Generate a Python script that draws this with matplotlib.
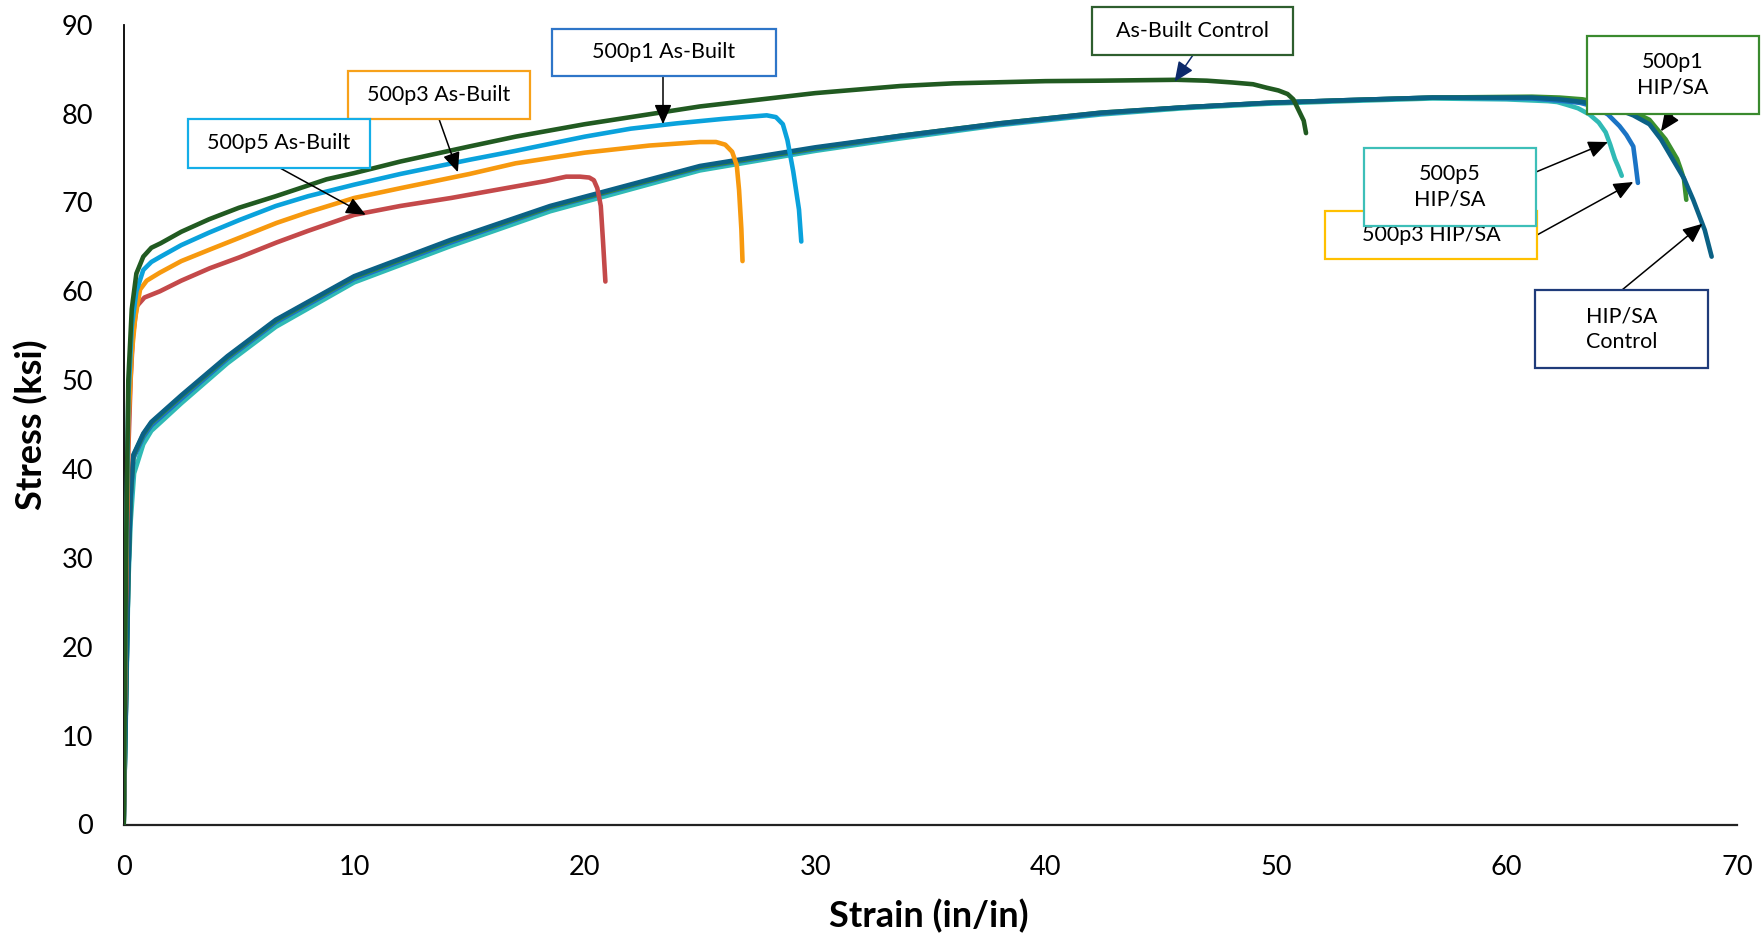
import matplotlib
matplotlib.use("Agg")
import matplotlib.pyplot as plt
from matplotlib.patches import Rectangle

plt.rcParams['font.family'] = ['Lato', 'DejaVu Sans']

# ---------------- data (strain %, stress ksi) ----------------
hip_p5_x = [0, 0.1, 0.2, 0.3, 0.45, 0.85, 1.2, 2.5, 4.5, 6.6, 10, 14.2, 18.5, 25, 30, 33.7, 38, 42.4, 46,
            49.6, 53, 56.8, 60, 61.8, 62.2, 62.6, 63.1, 63.6, 64.0, 64.3, 64.5, 64.7, 64.85, 65.0]
hip_p5_y = [0, 13, 27, 34, 39.5, 42.8, 44.3, 47.4, 51.9, 56.0, 61.0, 65.1, 69.0, 73.6, 75.8, 77.2, 78.7, 79.9, 80.6,
            81.1, 81.4, 81.7, 81.6, 81.4, 81.3, 81.0, 80.6, 79.9, 79.0, 77.9, 76.5, 74.9, 74.0, 73.0]

hip_p3_x = [0, 0.1, 0.2, 0.3, 0.42, 0.85, 1.2, 2.5, 4.5, 6.6, 10, 14.2, 18.5, 25, 30, 33.7, 38, 42.4, 46,
            49.6, 53, 56.8, 61.1, 62.5, 63.2, 63.8, 64.4, 64.9, 65.2, 65.5, 65.6, 65.7]
hip_p3_y = [0, 14, 28, 36, 41.2, 43.6, 44.9, 47.9, 52.4, 56.5, 61.4, 65.5, 69.4, 73.9, 76.0, 77.4, 78.8, 80.0, 80.7,
            81.2, 81.5, 81.8, 81.7, 81.4, 81.2, 80.8, 79.9, 78.6, 77.6, 76.3, 74.3, 72.2]

hip_p1_x = [0, 0.1, 0.2, 0.3, 0.42, 0.85, 1.2, 2.5, 4.5, 6.6, 10, 14.2, 18.5, 25, 30, 33.7, 38, 42.4, 46,
            49.6, 53, 56.8, 61.1, 62.3, 63.3, 64.8, 65.5, 66.2, 66.9, 67.15, 67.4, 67.55, 67.7, 67.8]
hip_p1_y = [0, 14, 28, 37, 41.5, 43.9, 45.2, 48.2, 52.6, 56.7, 61.6, 65.7, 69.5, 74.0, 76.1, 77.5, 78.9, 80.1, 80.7,
            81.2, 81.5, 81.8, 81.9, 81.8, 81.6, 80.8, 80.2, 79.3, 77.1, 76.0, 74.9, 73.8, 72.6, 70.3]

hip_ctrl_x = [0, 0.1, 0.2, 0.3, 0.42, 0.85, 1.2, 2.5, 4.5, 6.6, 10, 14.2, 18.5, 25, 30, 33.7, 38, 42.4, 46,
              49.6, 53, 56.8, 61.1, 62.3, 63.3, 64.8, 65.5, 66.2, 66.7, 67.2, 67.7, 68.1, 68.6, 68.9]
hip_ctrl_y = [0, 14, 28, 37, 41.6, 44.0, 45.3, 48.3, 52.7, 56.8, 61.7, 65.8, 69.6, 74.1, 76.2, 77.5, 78.9, 80.1, 80.7,
              81.2, 81.5, 81.8, 81.8, 81.6, 81.3, 80.5, 79.8, 78.8, 77.1, 74.9, 72.7, 70.3, 66.9, 63.9]

ab_p5_x = [0, 0.1, 0.2, 0.3, 0.4, 0.56, 0.9, 1.57, 2.5, 3.74, 5, 6.64, 8, 10, 12, 14.2, 17, 18.3, 19.2, 19.8,
           20.2, 20.4, 20.55, 20.7, 20.8, 20.9]
ab_p5_y = [0, 25, 42, 50, 55, 58.3, 59.3, 60.0, 61.2, 62.6, 63.8, 65.5, 66.8, 68.6, 69.6, 70.5, 71.8, 72.4, 72.9, 72.9,
           72.8, 72.5, 71.6, 69.6, 65.5, 61.1]

ab_p3_x = [0, 0.1, 0.2, 0.35, 0.5, 0.71, 1.0, 1.57, 2.5, 3.74, 5, 6.64, 8, 10, 12, 15, 17, 18.5, 20, 22.8, 25,
           25.7, 26.1, 26.4, 26.6, 26.7, 26.8, 26.85]
ab_p3_y = [0, 28, 45, 53, 57, 60.2, 61.2, 62.1, 63.4, 64.7, 66.0, 67.7, 68.9, 70.5, 71.6, 73.2, 74.4, 75.0, 75.6, 76.4,
           76.8, 76.8, 76.5, 75.7, 74.2, 71.4, 67.0, 63.4]

ab_p1_x = [0, 0.1, 0.2, 0.35, 0.55, 0.85, 1.2, 1.6, 2.5, 3.7, 5, 6.6, 8, 10, 12, 15, 17, 20, 22, 24, 26, 27.9,
           28.3, 28.6, 28.8, 29.05, 29.3, 29.4]
ab_p1_y = [0, 30, 48, 56, 60, 62.4, 63.3, 63.9, 65.2, 66.6, 68.0, 69.6, 70.7, 72.0, 73.2, 74.8, 75.8, 77.4, 78.3, 78.9,
           79.4, 79.8, 79.6, 78.8, 77.0, 73.5, 69.2, 65.6]

ab_ctrl_x = [0, 0.1, 0.2, 0.35, 0.55, 0.85, 1.2, 1.6, 2.5, 3.7, 5, 6.6, 8.8, 10, 12, 15, 17, 20, 25, 30, 33.7,
             36, 40, 42.4, 45.7, 47, 48.1, 49, 49.6, 50.1, 50.5, 50.75, 50.9, 51.05, 51.2, 51.3]
ab_ctrl_y = [0, 30, 50, 58, 62, 63.9, 64.9, 65.4, 66.7, 68.1, 69.4, 70.7, 72.6, 73.3, 74.6, 76.3, 77.4, 78.8, 80.8,
             82.3, 83.1, 83.4, 83.65, 83.7, 83.8, 83.7, 83.5, 83.3, 82.9, 82.6, 82.2, 81.6, 80.8, 80.0, 79.2, 77.8]

x_ticks = [0, 10, 20, 30, 40, 50, 60, 70]
y_ticks = [0, 10, 20, 30, 40, 50, 60, 70, 80, 90]

series = [
    (hip_p5_x, hip_p5_y, '#30BAB5'),
    (hip_p3_x, hip_p3_y, '#1B74C5'),
    (hip_p1_x, hip_p1_y, '#3A8F2E'),
    (hip_ctrl_x, hip_ctrl_y, '#0B6185'),
    (ab_p5_x, ab_p5_y, '#C4494A'),
    (ab_p3_x, ab_p3_y, '#F7990E'),
    (ab_p1_x, ab_p1_y, '#0AA2DC'),
    (ab_ctrl_x, ab_ctrl_y, '#215A21'),
]

# callouts: text, box (px: left, top, right, bottom), edge colour, arrow start (px), arrow target (data), arrow colour
callouts = [
    ("500p1 As-Built", (552, 29, 776, 76), '#2E75C8', (663, 76), (23.4, 78.8), 'black'),
    ("500p3 As-Built", (348, 71, 530, 119), '#F7A11A', (439, 119), (14.5, 73.4), 'black'),
    ("500p5 As-Built", (188, 119, 370, 168), '#14AEE8', (280, 168), (10.5, 68.6), 'black'),
    ("As-Built Control", (1092, 7, 1293, 55), '#2E5E2E', (1193, 55), (45.6, 83.6), '#0D2A6B'),
    ("500p1\nHIP/SA", (1587, 36, 1759, 114), '#3A8A2E', (1673, 114), (66.7, 78.0), 'black'),
    ("500p3 HIP/SA", (1325, 211, 1537, 259), '#FFC000', (1537, 235), (65.5, 72.3), 'black'),
    ("500p5\nHIP/SA", (1364, 148, 1536, 226), '#3DBFB8', (1536, 172), (64.4, 76.8), 'black'),
    ("HIP/SA\nControl", (1535, 290, 1708, 368), '#1F3B7A', (1622, 290), (68.5, 67.6), 'black'),
]

W, H = 1763, 934
fig = plt.figure(figsize=(W / 100, H / 100), dpi=100)
ax = fig.add_axes([123.7 / W, 1 - 824.5 / H, (1737 - 123.7) / W, (824.5 - 24.7) / H])

for xs, ys, c in series:
    ax.plot(xs, ys, color=c, lw=3.3, solid_capstyle='round', solid_joinstyle='round', zorder=3)

ax.set_xlim(0, 70)
ax.set_ylim(0, 90)
ax.set_xticks(x_ticks)
ax.set_yticks(y_ticks)
ax.tick_params(axis='both', length=0, labelsize=19.5, pad=22, colors='black')
for s in ['top', 'right']:
    ax.spines[s].set_visible(False)
ax.spines['left'].set_color('black')
ax.spines['left'].set_linewidth(1.3)
ax.spines['bottom'].set_color('#222222')
ax.spines['bottom'].set_linewidth(1.6)

ax.set_xlabel('Strain (in/in)', fontsize=26, fontweight='bold', va='center')
ax.xaxis.set_label_coords(0.499, -0.114)
ax.set_ylabel('Stress (ksi)', fontsize=26, fontweight='bold', va='center')
ax.yaxis.set_label_coords(-0.0575, 0.5)


def fx(x):
    return x / W


def fy(y):
    return 1 - y / H


z = 10
for text, (l, t, r, b), ec, (sx, sy), tgt, acol in callouts:
    rect = Rectangle((fx(l), fy(b)), fx(r) - fx(l), fy(t) - fy(b), transform=fig.transFigure,
                     facecolor='white', edgecolor=ec, lw=1.6, zorder=z)
    fig.add_artist(rect)
    fig.text(fx((l + r) / 2), fy((t + b) / 2), text, ha='center', va='center', fontsize=15.5,
             linespacing=1.35, zorder=z + 0.5)
    ax.annotate('', xy=tgt, xycoords='data', xytext=(fx(sx), fy(sy)), textcoords='figure fraction',
                arrowprops=dict(arrowstyle='-|>,head_length=0.8,head_width=0.35', mutation_scale=15,
                                color=acol, lw=1.1, shrinkA=0, shrinkB=0), zorder=z + 0.8)
    z += 1

fig.savefig('out.png', dpi=100)
